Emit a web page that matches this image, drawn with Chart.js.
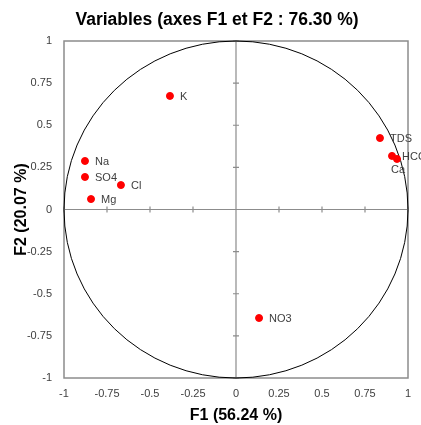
<!DOCTYPE html>
<html>
<head>
<meta charset="utf-8">
<script src="https://cdn.jsdelivr.net/npm/chart.js@4.4.1/dist/chart.umd.min.js"></script>
<style>
  html, body { margin: 0; padding: 0; background: #fff; }
  #wrap { width: 421px; height: 425px; }
</style>
</head>
<body>
<div id="wrap"><canvas id="cercle"></canvas></div>
<script>
// variables et coordonnées sur F1 / F2
const variables = ["K", "TDS", "HCO3", "Ca", "Na", "SO4", "Cl", "Mg", "NO3"]
const f1 = [-0.384, 0.837, 0.907, 0.936, -0.878, -0.878, -0.669, -0.843, 0.134]
const f2 = [0.674, 0.424, 0.318, 0.300, 0.288, 0.193, 0.145, 0.062, -0.644]
const ticksF = [-1, -0.75, -0.5, -0.25, 0, 0.25, 0.5, 0.75, 1]

const police = "'Liberation Sans', Arial, sans-serif"
const gris = "#8c8c8c"

// cadre, axes centraux et cercle des corrélations
const cerclePlugin = {
  id: "cercle",
  beforeDatasetsDraw(chart) {
    const { ctx, chartArea, scales } = chart
    const x = scales.x
    const y = scales.y
    const x0 = x.getPixelForValue(0)
    const y0 = y.getPixelForValue(0)
    ctx.save()
    ctx.strokeStyle = gris
    ctx.lineWidth = 1.5
    ctx.strokeRect(chartArea.left, chartArea.top, chartArea.width, chartArea.height)
    ctx.lineWidth = 1.2
    ctx.beginPath()
    ctx.moveTo(chartArea.left, y0)
    ctx.lineTo(chartArea.right, y0)
    ctx.moveTo(x0, chartArea.top)
    ctx.lineTo(x0, chartArea.bottom)
    ticksF.forEach((t) => {
      const px = x.getPixelForValue(t)
      const py = y.getPixelForValue(t)
      ctx.moveTo(px, y0 - 3)
      ctx.lineTo(px, y0 + 3)
      ctx.moveTo(x0 - 3, py)
      ctx.lineTo(x0 + 3, py)
    })
    ctx.stroke()
    // cercle de rayon 1
    const rx = x.getPixelForValue(1) - x0
    const ry = y0 - y.getPixelForValue(1)
    ctx.strokeStyle = "#000"
    ctx.lineWidth = 1
    ctx.beginPath()
    ctx.ellipse(x0, y0, rx, ry, 0, 0, Math.PI * 2)
    ctx.stroke()
    ctx.restore()
  },
  afterDatasetsDraw(chart) {
    const { ctx } = chart
    const pts = chart.getDatasetMeta(0).data
    ctx.save()
    ctx.fillStyle = "#404040"
    ctx.font = "11px " + police
    ctx.textBaseline = "middle"
    pts.forEach((p, i) => {
      const nom = variables[i]
      if (nom === "Ca") {
        ctx.fillText(nom, p.x - 6, p.y + 11)
      } else {
        ctx.fillText(nom, p.x + 10, p.y + 1)
      }
    })
    ctx.restore()
  },
}

const ctx = document.getElementById("cercle").getContext("2d")

new Chart(ctx, {
  type: "scatter",
  data: {
    datasets: [
      {
        label: "Variables",
        data: f1.map((v, i) => ({ x: v, y: f2[i] })),
        backgroundColor: "#ff0000",
        borderColor: "#ff0000",
        pointRadius: 3.5,
        pointHoverRadius: 3.5,
      },
    ],
  },
  options: {
    responsive: true,
    maintainAspectRatio: false,
    animation: false,
    // marge gauche pour recentrer le titre comme sur l'original
    layout: { padding: { left: 26, right: 13, top: 0, bottom: 0 } },
    plugins: {
      legend: { display: false },
      tooltip: { enabled: false },
      title: {
        display: true,
        text: "Variables (axes F1 et F2 : 76.30 %)",
        color: "#000",
        font: { family: police, size: 17.5, weight: "bold" },
        padding: { top: 10, bottom: 10 },
      },
    },
    scales: {
      x: {
        type: "linear",
        min: -1,
        max: 1,
        afterBuildTicks: (axis) => {
          axis.ticks = ticksF.map((v) => ({ value: v }))
        },
        afterFit: (axis) => {
          axis.height = 47
        },
        grid: { display: false, drawTicks: false },
        border: { display: false },
        ticks: {
          color: "#404040",
          font: { family: police, size: 11 },
          padding: 9,
          maxRotation: 0,
          callback: (v) => String(v),
        },
        title: {
          display: true,
          text: "F1 (56.24 %)",
          color: "#000",
          font: { family: police, size: 16, weight: "bold" },
          padding: { top: 0, bottom: 0 },
        },
      },
      y: {
        type: "linear",
        min: -1,
        max: 1,
        afterBuildTicks: (axis) => {
          axis.ticks = ticksF.map((v) => ({ value: v }))
        },
        afterFit: (axis) => {
          axis.width = 38
        },
        grid: { display: false, drawTicks: false },
        border: { display: false },
        ticks: {
          color: "#404040",
          font: { family: police, size: 11 },
          padding: 12,
          callback: (v) => String(v),
        },
        title: {
          display: true,
          text: "F2 (20.07 %)",
          color: "#000",
          font: { family: police, size: 16, weight: "bold" },
          padding: { top: -14, bottom: 0 },
        },
      },
    },
  },
  plugins: [cerclePlugin],
})
</script>
</body>
</html>
